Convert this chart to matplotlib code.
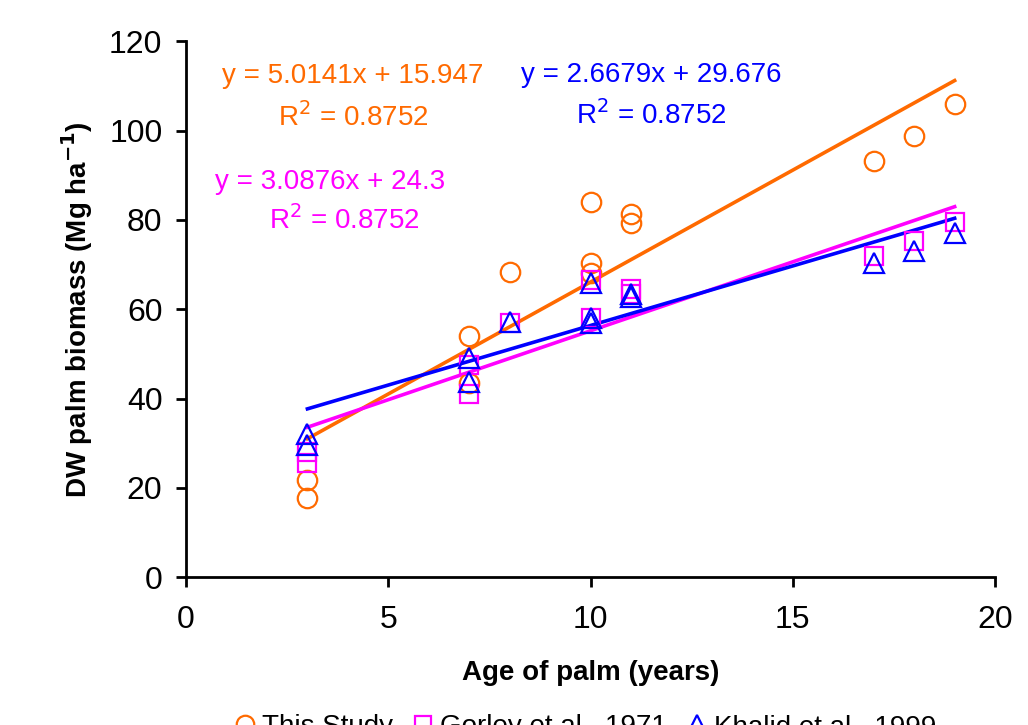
import matplotlib
matplotlib.use("Agg")
import matplotlib.pyplot as plt
import numpy as np

plt.rcParams['font.family'] = ['Liberation Sans', 'DejaVu Sans']

# This Study
study_x = [3, 3, 7, 7, 8, 10, 10, 10, 11, 11, 17, 18, 19]
study_y = [21.7, 17.7, 54.0, 43.4, 68.4, 84.0, 70.3, 68.0, 81.3, 79.2, 93.3, 98.7, 105.9]

# Gorley et al., 1971
gorley_x = [3, 3, 7, 7, 8, 10, 10, 11, 11, 17, 18, 19]
gorley_y = [28.0, 25.5, 47.5, 41.0, 57.0, 66.5, 58.0, 64.5, 63.5, 72.0, 75.3, 79.5]

# Khalid et al., 1999
khalid_x = [3, 3, 7, 7, 8, 10, 10, 10, 11, 11, 17, 18, 19]
khalid_y = [32.0, 29.5, 49.0, 43.7, 57.2, 65.8, 58.0, 56.8, 63.5, 62.8, 70.3, 73.0, 77.0]

# trend lines (slope, intercept) as printed on the chart
fit_study = (5.0141, 15.947)
fit_gorley = (3.0876, 24.3)
fit_khalid = (2.6679, 29.676)
fit_range = [3, 19]

orange = '#FF6A00'
magenta = '#FF00FF'
blue = '#0000FF'

fig = plt.figure(figsize=(10.28, 7.25), dpi=100)
ax = fig.add_axes([0.181, 0.204, 0.787, 0.739])

ms = 14
ax.plot(study_x, study_y, 'o', mfc='none', mec=orange, mew=1.6, ms=ms, label='This Study', zorder=3)
ax.plot(gorley_x, gorley_y, 's', mfc='none', mec=magenta, mew=1.6, ms=ms - 1.5, label='Gorley et al., 1971', zorder=3)
ax.plot(khalid_x, khalid_y, '^', mfc='none', mec=blue, mew=1.6, ms=ms, label='Khalid et al., 1999', zorder=3)

xs = np.array(fit_range)
ax.plot(xs, fit_study[0] * xs + fit_study[1], color=orange, lw=2.6, zorder=2)
ax.plot(xs, fit_gorley[0] * xs + fit_gorley[1], color=magenta, lw=2.6, zorder=2)
ax.plot(xs, fit_khalid[0] * xs + fit_khalid[1], color=blue, lw=2.6, zorder=2)

fs = 20
ax.text(4.13, 112.2, 'y = 5.0141x + 15.947', color=orange, fontsize=fs, ha='center', va='center')
ax.text(4.13, 103.0, 'R$^2$ = 0.8752', color=orange, fontsize=fs, ha='center', va='center')
ax.text(11.5, 112.4, 'y = 2.6679x + 29.676', color=blue, fontsize=fs, ha='center', va='center')
ax.text(11.5, 103.4, 'R$^2$ = 0.8752', color=blue, fontsize=fs, ha='center', va='center')
ax.text(3.56, 88.4, 'y = 3.0876x + 24.3', color=magenta, fontsize=fs, ha='center', va='center')
ax.text(3.9, 80.0, 'R$^2$ = 0.8752', color=magenta, fontsize=fs, ha='center', va='center')

ax.set_xlim(0, 20)
ax.set_ylim(0, 120)
ax.set_xticks([0, 5, 10, 15, 20])
ax.set_yticks(range(0, 121, 20))
for s in ['top', 'right']:
    ax.spines[s].set_visible(False)
for s in ['left', 'bottom']:
    ax.spines[s].set_linewidth(2)
ax.tick_params(direction='out', length=7, width=2, labelsize=23)
ax.tick_params(axis='x', pad=13)
ax.tick_params(axis='y', pad=10)

ax.set_xlabel('Age of palm (years)', fontsize=fs, fontweight='bold', labelpad=18)
ax.set_ylabel('DW palm biomass (Mg ha$^{\\mathbf{-1}}$)', fontsize=fs, fontweight='bold', labelpad=10)

fig.legend(loc='center', bbox_to_anchor=(0.568, -0.003), ncol=3, frameon=False,
           fontsize=fs, handletextpad=0.1, columnspacing=0.6, handlelength=1.0, markerscale=0.9)

fig.savefig('out.png', dpi=100)
